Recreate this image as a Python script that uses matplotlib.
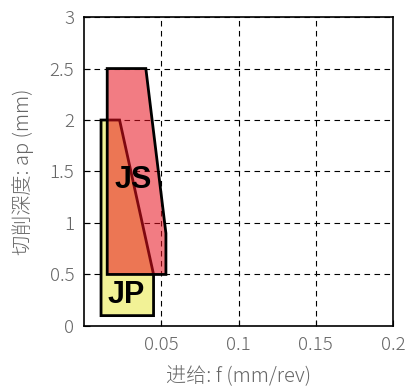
import matplotlib
matplotlib.use("Agg")
import matplotlib.pyplot as plt
from matplotlib.patches import Polygon

plt.rcParams['font.family'] = ['Noto Sans CJK JP', 'DejaVu Sans']

# region outlines (feed f, depth ap)
jp_f = [0.011, 0.011, 0.023, 0.045, 0.045]
jp_ap = [0.1, 2.0, 2.0, 0.5, 0.1]
js_f = [0.015, 0.015, 0.040, 0.053, 0.053]
js_ap = [0.5, 2.5, 2.5, 0.9, 0.5]

x_ticks = [0.05, 0.1, 0.15, 0.2]
x_labels = ['0.05', '0.1', '0.15', '0.2']
y_ticks = [0, 0.5, 1, 1.5, 2, 2.5, 3]
y_labels = ['0', '0.5', '1', '1.5', '2', '2.5', '3']

fig = plt.figure(figsize=(4.06, 3.88), dpi=100)
ax = fig.add_axes([0.207, 0.160, 0.761, 0.796])

ax.add_patch(Polygon(list(zip(jp_f, jp_ap)), closed=True, facecolor='#f2f296',
                     edgecolor='black', linewidth=2, zorder=2))
ax.add_patch(Polygon(list(zip(js_f, js_ap)), closed=True, facecolor='#e8101e', alpha=0.55,
                     edgecolor='none', zorder=3))
ax.add_patch(Polygon(list(zip(js_f, js_ap)), closed=True, facecolor='none',
                     edgecolor='black', linewidth=2, zorder=4))

ax.text(0.032, 1.42, 'JS', fontsize=22, fontweight='bold', family='Liberation Sans',
        ha='center', va='center', zorder=5)
ax.text(0.027, 0.3, 'JP', fontsize=22, fontweight='bold', family='Liberation Sans',
        ha='center', va='center', zorder=5)

ax.set_xlim(0, 0.2)
ax.set_ylim(0, 3)
ax.set_xticks(x_ticks)
ax.set_xticklabels(x_labels)
ax.set_yticks(y_ticks)
ax.set_yticklabels(y_labels)
ax.grid(True, linestyle=(0, (5, 4)), color='black', linewidth=0.8, zorder=1)
ax.set_axisbelow(True)
ax.tick_params(direction='in', length=4, labelsize=13.5, labelcolor='#666666', pad=7)
for lab in ax.get_xticklabels() + ax.get_yticklabels():
    lab.set_fontweight('light')
for s in ax.spines.values():
    s.set_linewidth(1.2)

ax.set_xlabel('进给: f (mm/rev)', fontsize=14.5, color='#666666', labelpad=9,
              fontweight='light')
ax.set_ylabel('切削深度: ap (mm)', fontsize=14.5, color='#666666', labelpad=11,
              fontweight='light')

fig.savefig('out.png', dpi=100)
